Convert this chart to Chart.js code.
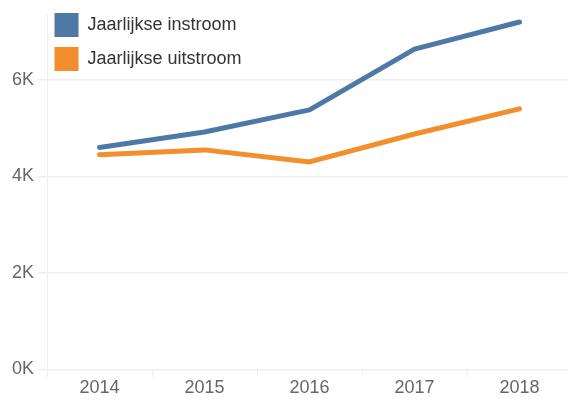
<!DOCTYPE html>
<html>
<head>
  <meta charset="UTF-8">
  <title>Jaarlijkse in- en uitstroom</title>
  <script src="https://cdn.jsdelivr.net/npm/chart.js"></script>
  <style>
    html, body {
      margin: 0;
      padding: 0;
      background: #fff;
      overflow: hidden;
    }
    /* a bit wider than the window so the last band runs off the right edge */
    #wrap {
      width: 572px;
      height: 399px;
    }
  </style>
</head>
<body>
  <div id="wrap">
    <canvas id="flowChart"></canvas>
  </div>

  <script>
    // Years on the x axis
    const years = ["2014", "2015", "2016", "2017", "2018"];

    // Yearly inflow and outflow
    const instroom = [4600, 4920, 5380, 6640, 7200];
    const uitstroom = [4450, 4550, 4300, 4880, 5400];

    // Y axis tick values
    const yTicks = [0, 2000, 4000, 6000];

    const gridColor = "#efefef";
    const font = { family: "'Liberation Sans', Arial, sans-serif", size: 18 };

    // Nudge the legend inside the plot area
    const legendNudge = {
      id: "legendNudge",
      afterLayout(chart) {
        chart.legend.left -= 2.5;
        chart.legend.top += 3;
      }
    };

    new Chart(document.getElementById("flowChart"), {
      type: "line",
      data: {
        labels: years,
        datasets: [
          {
            label: "Jaarlijkse instroom",
            data: instroom,
            borderColor: "#4e79a7",
            backgroundColor: "#4e79a7",
            borderWidth: 5,
            borderCapStyle: "round",
            borderJoinStyle: "round",
            pointRadius: 0,
            tension: 0
          },
          {
            label: "Jaarlijkse uitstroom",
            data: uitstroom,
            borderColor: "#f28e2b",
            backgroundColor: "#f28e2b",
            borderWidth: 5,
            borderCapStyle: "round",
            borderJoinStyle: "round",
            pointRadius: 0,
            tension: 0
          }
        ]
      },
      options: {
        responsive: true,
        maintainAspectRatio: false,
        animation: false,
        layout: {
          padding: { left: 8, right: 0, top: 0, bottom: 0 }
        },
        plugins: {
          legend: {
            position: "chartArea",
            align: "start",
            labels: {
              boxWidth: 24,
              boxHeight: 24,
              padding: 10,
              color: "#333",
              font: font,
              // plain filled squares, no outline
              generateLabels: chart => {
                const items = Chart.defaults.plugins.legend.labels.generateLabels(chart);
                items.forEach(it => { it.lineWidth = 0; });
                return items;
              }
            }
          },
          tooltip: { enabled: false }
        },
        scales: {
          x: {
            offset: true,
            grid: {
              offset: true,
              drawOnChartArea: false,
              color: gridColor,
              tickLength: 8
            },
            border: { color: gridColor },
            ticks: {
              color: "#666",
              font: font,
              padding: 0,
              maxRotation: 0
            }
          },
          y: {
            min: 0,
            max: 7350,
            afterBuildTicks: axis => {
              axis.ticks = yTicks.map(v => ({ value: v }));
            },
            grid: {
              color: gridColor,
              lineWidth: 1.5,
              tickLength: 9
            },
            border: { color: gridColor },
            ticks: {
              color: "#666",
              font: font,
              padding: 4,
              callback: v => (v / 1000) + "K"
            }
          }
        }
      },
      plugins: [legendNudge]
    });
  </script>
</body>
</html>
